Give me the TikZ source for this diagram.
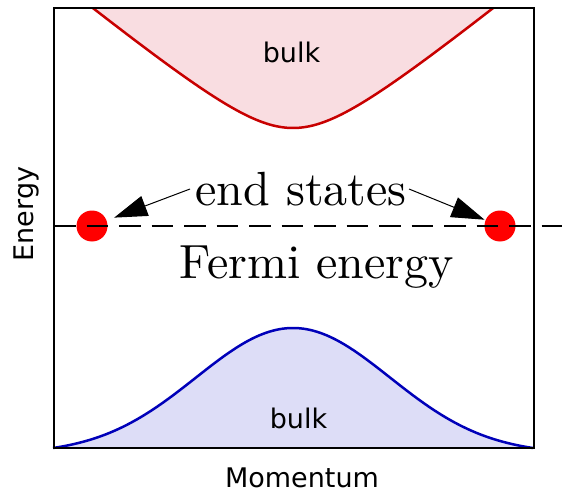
\documentclass[tikz,border=0pt]{standalone}
\usepackage{fontspec}
\newfontfamily\labelfont{DejaVu Sans}
\newfontfamily\bigfont{lmroman10-regular.otf}
\usetikzlibrary{arrows.meta}
\definecolor{bandred}{RGB}{200,0,0}
\definecolor{bandpink}{RGB}{249,221,225}
\definecolor{bandblue}{RGB}{0,0,185}
\definecolor{bandlav}{RGB}{221,221,247}
\begin{document}
\begin{tikzpicture}[x=1pt,y=-1pt,
  sanslabel/.style={font=\labelfont\fontsize{27}{32}\selectfont, inner sep=0pt, anchor=base},
  bigserif/.style={font=\bigfont\fontsize{48}{56}\selectfont, inner sep=0pt, anchor=base},
  dot/.style={circle, fill=red, minimum size=31pt, inner sep=0pt},
  pointer/.style={-{Triangle[length=33pt,width=21pt]}, line width=1pt},
  band/.style={line width=2.5pt},
  declare function={cb(\t)=128 - 100*(sqrt(0.25 + (0.008124*\t)*(0.008124*\t)) - 0.5);
                    vb(\t)=448 - 120*(exp(-0.5*(\t/97)*(\t/97)) - 0.0468)/0.9532;}]
\useasboundingbox (0,0) rectangle (562,492);
% conduction band (top)
\fill[bandpink] plot[variable=\t, domain=200:0, samples=61] ({293-\t}, {cb(\t)})
  -- plot[variable=\t, domain=0:200, samples=61] ({293+\t}, {cb(\t)}) -- cycle;
\draw[band, bandred] plot[variable=\t, domain=200:0, samples=61] ({293-\t}, {cb(\t)})
  -- plot[variable=\t, domain=0:200, samples=61] ({293+\t}, {cb(\t)});
% valence band (bottom)
\fill[bandlav] plot[variable=\t, domain=240:0, samples=71] ({293-\t}, {vb(\t)})
  -- plot[variable=\t, domain=0:240, samples=71] ({293+\t}, {vb(\t)}) -- cycle;
\draw[band, bandblue] plot[variable=\t, domain=240:0, samples=71] ({293-\t}, {vb(\t)})
  -- plot[variable=\t, domain=0:240, samples=71] ({293+\t}, {vb(\t)});
% frame
\draw[line width=2pt] (54,8) rectangle (534,448);
% end-state dots
\node[dot] (ldot) at (92,226) {};
\node[dot] (rdot) at (500,226) {};
% Fermi level
\coordinate (fl) at (54,226);
\coordinate (fr) at (562,226);
\draw[line width=2pt, dash pattern=on 21.5pt off 11pt] (fl) -- (fr);
% labels
\node[bigserif] (endstates) at (301,205) {end states};
\node[bigserif] (fermi) at (317,278) {Fermi energy};
\node[sanslabel] (bulktop) at (291.5,63) {bulk};
\node[sanslabel] (bulkbot) at (298.5,428) {bulk};
\node[sanslabel] (momentum) at (302,487) {Momentum};
\node[sanslabel, rotate=90] (energy) at (33,214) {Energy};
% arrows
\coordinate (la) at (190,189);
\coordinate (ra) at (409,189);
\draw[pointer, shorten >=8pt] (la) -- (ldot);
\draw[pointer, shorten >=1pt] (ra) -- (rdot);
\end{tikzpicture}
\end{document}
